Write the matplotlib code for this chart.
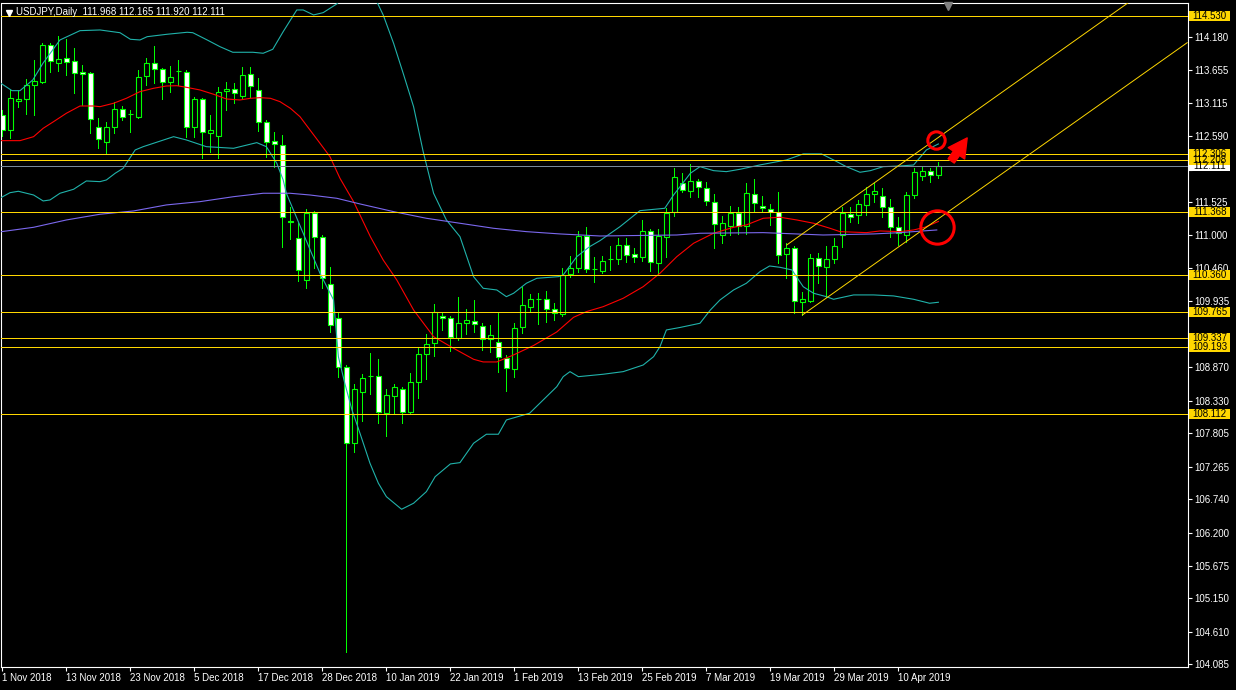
import numpy as np
import matplotlib.pyplot as plt
from matplotlib.patches import Rectangle
from matplotlib.transforms import blended_transform_factory

plt.rcParams['font.family'] = ['Liberation Sans', 'DejaVu Sans']

# USDJPY daily candles, 1 Nov 2018 .. 17 Apr 2019
opens = [112.929, 112.688, 113.155, 113.187, 113.412, 113.461, 114.056, 113.767, 113.847, 113.799,
         113.622, 113.606, 112.736, 112.495, 112.736, 113.026, 112.946, 112.897, 113.557, 113.767,
         113.670, 113.461, 113.638, 113.622, 112.736, 113.187, 112.640, 112.591, 113.316, 113.348,
         113.235, 113.590, 113.332, 112.817, 112.511, 112.447, 111.223, 110.949, 110.273, 111.352,
         110.965, 110.209, 109.661, 108.872, 107.649, 108.470, 108.727, 108.727, 108.132, 108.405,
         108.518, 108.148, 108.631, 109.082, 109.259, 109.693, 109.661, 109.339, 109.581, 109.613,
         109.532, 109.323, 109.275, 109.017, 108.840, 109.516, 109.838, 109.959, 109.967, 109.806,
         109.726, 110.370, 110.466, 110.981, 110.450, 110.418, 110.603, 110.611, 110.837, 110.692,
         110.643, 111.062, 110.547, 110.965, 111.368, 111.835, 111.706, 111.867, 111.754, 111.529,
         110.998, 111.142, 111.352, 111.142, 111.658, 111.464, 111.416, 111.368, 110.692, 110.788,
         109.919, 109.935, 110.627, 110.482, 110.611, 110.998, 111.336, 111.320, 111.481, 111.658,
         111.625, 111.448, 111.126, 110.998, 111.641, 111.947, 112.028, 111.968]
highs = [113.010, 113.332, 113.332, 113.509, 113.815, 114.089, 114.089, 114.201, 114.153, 114.008,
         113.735, 113.622, 112.881, 112.817, 113.139, 113.074, 113.010, 113.654, 113.847, 114.040,
         113.686, 113.718, 113.815, 113.654, 113.219, 113.203, 112.929, 113.380, 113.461, 113.445,
         113.702, 113.702, 113.525, 112.849, 112.656, 112.608, 111.448, 111.191, 111.416, 111.384,
         110.998, 110.482, 109.742, 108.905, 108.599, 108.760, 109.098, 109.001, 108.518, 108.599,
         108.550, 108.776, 109.178, 109.404, 109.887, 109.758, 109.693, 109.999, 109.806, 109.951,
         109.581, 109.549, 109.742, 109.066, 109.581, 110.160, 110.048, 110.064, 110.096, 109.903,
         110.466, 110.659, 111.062, 111.126, 110.643, 110.659, 110.820, 110.949, 110.949, 110.788,
         111.239, 111.094, 111.094, 111.432, 112.076, 111.996, 112.141, 111.899, 111.851, 111.658,
         111.303, 111.464, 111.448, 111.835, 111.899, 111.625, 111.497, 111.690, 110.869, 110.820,
         110.080, 110.692, 110.708, 110.820, 110.949, 111.448, 111.448, 111.561, 111.770, 111.835,
         111.754, 111.577, 111.287, 111.690, 112.076, 112.092, 112.076, 112.165]
lows = [112.591, 112.559, 113.058, 112.946, 112.929, 113.445, 113.622, 113.638, 113.574, 113.284,
        113.091, 112.640, 112.398, 112.318, 112.640, 112.849, 112.656, 112.881, 113.412, 113.445,
        113.187, 113.300, 113.412, 112.575, 112.575, 112.237, 112.334, 112.237, 113.010, 113.123,
        113.187, 113.219, 112.672, 112.253, 112.092, 110.804, 110.933, 110.257, 110.144, 110.466,
        110.144, 109.436, 108.711, 104.284, 107.504, 108.003, 108.438, 107.971, 107.761, 108.132,
        107.971, 108.132, 108.373, 108.679, 109.049, 109.468, 109.130, 109.307, 109.404, 109.436,
        109.146, 109.114, 108.792, 108.486, 108.711, 109.420, 109.758, 109.565, 109.597, 109.629,
        109.693, 110.321, 110.402, 110.402, 110.241, 110.386, 110.434, 110.531, 110.563, 110.563,
        110.579, 110.418, 110.354, 110.643, 111.303, 111.690, 111.609, 111.609, 111.481, 110.788,
        110.869, 110.998, 111.014, 111.014, 111.368, 111.368, 111.159, 110.547, 110.305, 109.742,
        109.709, 109.919, 110.225, 109.999, 110.547, 110.804, 111.207, 111.191, 111.320, 111.529,
        111.287, 110.965, 110.837, 110.885, 111.593, 111.883, 111.851, 111.920]
closes = [112.688, 113.203, 113.187, 113.412, 113.477, 114.056, 113.799, 113.831, 113.783, 113.606,
          113.590, 112.865, 112.543, 112.736, 113.026, 112.897, 112.938, 113.541, 113.767, 113.670,
          113.461, 113.541, 113.630, 112.736, 113.187, 112.656, 112.688, 113.300, 113.348, 113.284,
          113.574, 113.396, 112.817, 112.495, 112.463, 111.287, 111.207, 110.434, 111.352, 110.965,
          110.305, 109.549, 108.872, 107.649, 108.518, 108.695, 108.719, 108.148, 108.422, 108.550,
          108.148, 108.631, 109.082, 109.243, 109.758, 109.653, 109.355, 109.581, 109.629, 109.565,
          109.323, 109.388, 109.033, 108.856, 109.500, 109.871, 109.967, 109.967, 109.806, 109.742,
          110.354, 110.466, 110.981, 110.450, 110.442, 110.579, 110.611, 110.837, 110.676, 110.643,
          111.062, 110.563, 110.981, 111.352, 111.931, 111.722, 111.867, 111.770, 111.545, 111.175,
          111.191, 111.352, 111.142, 111.674, 111.513, 111.432, 111.368, 110.676, 110.788, 109.935,
          109.967, 110.627, 110.498, 110.611, 110.820, 111.352, 111.287, 111.497, 111.658, 111.706,
          111.448, 111.126, 111.030, 111.641, 112.012, 112.028, 111.963, 112.111]

# indicator lines (bar index, price)
bb_up_x = [-0.3, 1.2, 2.2, 3.8, 5.1, 7.2, 9.7, 12.2, 14.7, 16.0, 17.2, 18.1, 20.6, 23.1, 23.8, 25.6,
           27.2, 28.8, 31.3, 32.6, 33.8, 35.1, 36.8, 37.6, 38.9, 40.1, 41.8, 43.5, 45.3, 46.9, 47.6,
           48.9, 50.1, 51.4, 52.6, 53.9, 55.5, 57.2, 58.9, 60.1, 61.8, 63.0, 63.9, 65.5, 66.8, 69.5,
           70.1, 71.8, 73.4, 74.7, 77.2, 79.7, 82.8, 83.9, 86.0, 87.2, 88.9, 90.5, 92.2, 94.7, 98.0,
           100.1, 102.4, 103.9, 105.5, 107.2, 108.5, 110.1, 112.2, 113.9, 115.5, 117.0]
bb_up = [113.449, 113.321, 113.321, 113.493, 113.767, 114.137, 114.287, 114.298, 114.254, 114.148,
         114.137, 114.190, 114.229, 114.261, 114.254, 114.137, 114.029, 113.939, 113.939, 113.923,
         113.987, 114.271, 114.620, 114.620, 114.540, 114.577, 114.717, 114.950, 114.950, 114.728,
         114.540, 114.084, 113.601, 113.063, 112.339, 111.669, 111.239, 110.970, 110.326, 110.139,
         110.112, 110.004, 110.059, 110.220, 110.300, 110.326, 110.353, 110.648, 110.809, 110.906,
         111.131, 111.389, 111.427, 111.641, 111.991, 112.097, 112.033, 112.017, 112.055, 112.125,
         112.205, 112.302, 112.302, 112.205, 112.097, 112.007, 112.033, 112.097, 112.108, 112.124,
         112.366, 112.463]
bb_lo_x = [-0.1, 0.95, 2.0, 3.9, 5.1, 5.95, 7.2, 8.9, 10.5, 12.2, 13.0, 14.1, 15.1, 16.6, 17.6, 21.4,
           23.0, 25.5, 28.9, 31.8, 33.0, 34.3, 35.1, 35.5, 37.6, 39.7, 41.4, 42.0, 42.8, 43.7, 44.7,
           45.95, 47.0, 48.0, 49.9, 51.4, 53.0, 54.1, 56.0, 57.2, 58.9, 60.5, 62.0, 63.0, 65.9, 67.6,
           69.3, 70.1, 70.95, 72.0, 75.1, 77.6, 80.1, 81.4, 82.2, 83.0, 84.7, 87.2, 88.5, 89.7, 91.4,
           93.0, 94.7, 95.9, 97.2, 98.7, 100.1, 101.4, 103.0, 103.9, 106.4, 108.9, 111.4, 113.9,
           115.9, 117.0]
bb_lo = [111.604, 111.678, 111.701, 111.641, 111.545, 111.561, 111.669, 111.733, 111.867, 111.856,
         111.883, 111.991, 112.071, 112.366, 112.419, 112.580, 112.527, 112.419, 112.393, 112.484,
         112.419, 112.152, 111.883, 111.669, 111.025, 110.381, 109.951, 109.038, 108.610, 108.180,
         107.805, 107.322, 107.000, 106.784, 106.581, 106.678, 106.865, 107.106, 107.311, 107.332,
         107.644, 107.789, 107.789, 108.019, 108.127, 108.341, 108.555, 108.716, 108.797, 108.716,
         108.755, 108.797, 108.904, 109.038, 109.199, 109.468, 109.508, 109.576, 109.790, 109.951,
         110.112, 110.220, 110.407, 110.498, 110.477, 110.434, 110.165, 110.059, 110.004, 109.962,
         110.032, 110.032, 110.016, 109.962, 109.898, 109.914]
ma_red_x = [-0.3, 2.2, 3.9, 5.1, 6.4, 8.0, 9.7, 11.4, 12.2, 13.9, 15.5, 17.2, 18.9, 20.5, 21.8, 23.0,
            24.7, 26.4, 28.0, 29.7, 31.0, 32.2, 33.5, 34.7, 36.0, 37.2, 38.45, 39.7, 40.95, 42.2,
            43.9, 46.0, 47.6, 49.3, 51.4, 53.9, 56.4, 58.9, 60.1, 61.8, 63.9, 66.4, 69.3, 71.4, 73.0,
            75.1, 77.6, 80.1, 82.2, 84.3, 86.4, 88.9, 91.4, 93.0, 95.1, 97.2, 99.3, 101.4, 103.45,
            104.7, 108.0, 109.7, 112.2, 113.9, 115.3, 117.0]
ma_red = [112.516, 112.516, 112.580, 112.715, 112.822, 112.957, 113.074, 113.074, 113.063, 113.118,
          113.198, 113.305, 113.359, 113.396, 113.401, 113.375, 113.332, 113.263, 113.187, 113.171,
          113.198, 113.208, 113.198, 113.144, 113.037, 112.902, 112.688, 112.474, 112.258, 111.910,
          111.534, 110.970, 110.595, 110.273, 109.790, 109.360, 109.173, 108.996, 108.953, 108.953,
          109.066, 109.218, 109.436, 109.672, 109.763, 109.843, 109.978, 110.165, 110.381, 110.648,
          110.864, 111.025, 111.121, 111.159, 111.266, 111.283, 111.239, 111.186, 111.105, 111.051,
          111.035, 111.062, 111.051, 111.078, 111.121, 111.215]
ma200_x = [-0.1, 3.9, 8.0, 12.2, 16.4, 20.5, 24.7, 28.9, 32.6, 35.95, 38.45, 41.8, 44.7, 48.9, 53.0,
           57.2, 61.4, 65.5, 69.7, 74.7, 84.3, 87.2, 95.1, 102.6, 108.9, 112.2, 116.8]
ma200 = [111.051, 111.121, 111.239, 111.331, 111.384, 111.481, 111.534, 111.614, 111.669, 111.669,
         111.641, 111.588, 111.497, 111.373, 111.266, 111.186, 111.105, 111.051, 111.014, 110.981,
         110.997, 111.025, 111.035, 110.997, 111.014, 111.035, 111.078]

levels = [108.112, 109.193, 109.337, 109.765, 110.360, 111.368, 112.208, 112.306, 114.530]
bid = 112.111

# channel lines: start point and a point past the right edge
chan_up = [(98.04, 110.836), (148.1, 115.41)]
chan_lo = [(100.0, 109.709), (148.1, 114.093)]

price_ticks = [114.180, 113.655, 113.115, 112.590, 112.050, 111.525, 111.000, 110.460, 109.935,
               109.395, 108.870, 108.330, 107.805, 107.265, 106.740, 106.200, 105.675, 105.150,
               104.610, 104.085]
hidden_ticks = [112.050, 109.395]  # covered by the price labels
date_labels = ['1 Nov 2018', '13 Nov 2018', '23 Nov 2018', '5 Dec 2018', '17 Dec 2018',
               '28 Dec 2018', '10 Jan 2019', '22 Jan 2019', '1 Feb 2019', '13 Feb 2019',
               '25 Feb 2019', '7 Mar 2019', '19 Mar 2019', '29 Mar 2019', '10 Apr 2019']
date_bars = [8 * k for k in range(len(date_labels))]

# red marks drawn on the chart
circles = [(116.7, 112.53, 12.5), (116.8, 111.126, 24)]
arrow_tail = (118.6, 112.19)
arrow_tip = (120.6, 112.56)

W, H = 1236, 690
fig = plt.figure(figsize=(W / 100, H / 100), dpi=100, facecolor='black')
ax = fig.add_axes([1.5 / W, 23 / H, 1186 / W, 664 / H], facecolor='black')
ax.set_xlim(-0.11, 148.14)
ax.set_ylim(104.0415, 114.7322)

o = np.array(opens)
h = np.array(highs)
l = np.array(lows)
c = np.array(closes)
x = np.arange(len(o))
bull = c >= o

LW = 0.6  # one pixel for straight lines, drawn without smoothing

ax.vlines(x, l, h, color='#00ff00', lw=LW, zorder=2, antialiased=False)
ax.bar(x, np.maximum(np.abs(c - o), 0.004), bottom=np.minimum(o, c), width=0.55,
       color=np.where(bull, 'black', 'white'), edgecolor='#00ff00', linewidth=0.8, zorder=2.5)

ax.plot(bb_up_x, bb_up, color='#20b2aa', lw=0.8, zorder=3)
ax.plot(bb_lo_x, bb_lo, color='#20b2aa', lw=0.8, zorder=3)
ax.plot(ma_red_x, ma_red, color='#ff0000', lw=0.8, zorder=3)
ax.plot(ma200_x, ma200, color='#7b68ee', lw=0.8, zorder=3)

for lv in levels:
    ax.axhline(lv, color='#ffd700', lw=LW, zorder=4, antialiased=False)
ax.axhline(bid, color='#778899', lw=LW, zorder=3.5, antialiased=False)

for line in (chan_up, chan_lo):
    ax.plot([line[0][0], line[1][0]], [line[0][1], line[1][1]], color='#ffd700', lw=0.7, zorder=4)

for cx, cy, size in circles:
    ax.plot(cx, cy, 'o', ms=size, mfc='none', mec='#ff0000', mew=2.2, zorder=5)
ax.annotate('', xy=arrow_tip, xytext=arrow_tail, zorder=5,
            arrowprops=dict(arrowstyle='simple,head_length=0.75,head_width=0.8,tail_width=0.3',
                            color='#ff0000', mutation_scale=18, shrinkA=0, shrinkB=0))

# axes and ticks in MetaTrader style
for s in ax.spines.values():
    s.set_color('white')
    s.set_linewidth(0.8)
ax.yaxis.tick_right()
ax.set_yticks(price_ticks)
ax.set_yticklabels(['' if p in hidden_ticks else f'{p:.3f}' for p in price_ticks])
ax.set_xticks(date_bars)
ax.set_xticklabels(date_labels)
for lab in ax.get_xticklabels():
    lab.set_ha('left')
ax.tick_params(colors='white', labelsize=7, length=3, width=0.8, pad=2)
ax.tick_params(axis='x', pad=1.5)

# price labels on the right axis
tr = blended_transform_factory(ax.transAxes, ax.transData)
box_h = 10 * (114.7322 - 104.0415) / 664
box_w = 40.7 / 1186


def price_label(p, fc):
    ax.add_patch(Rectangle((1.0015, p - box_h / 2), box_w, box_h, transform=tr, fc=fc, ec='none',
                           clip_on=False, zorder=6))
    ax.text(1.0015 + box_w / 2, p, f'{p:.3f}', transform=tr, ha='center', va='center',
            fontsize=7, color='black', clip_on=False, zorder=7)


price_label(bid, 'white')
for lv in levels:
    price_label(lv, '#ffd700')

# header text and markers
fig.text(16.5 / W, 1 - 12 / H, 'USDJPY,Daily  111.968 112.165 111.920 112.111', color='white',
         fontsize=7, va='center', ha='left')
ax.plot(7.5 / 1186, 1 - 10 / 664, marker='v', ms=4.5, color='white', transform=ax.transAxes,
        clip_on=False, zorder=8)
ax.plot((948 - 1.5) / 1186, 1 - 3 / 664, marker='v', ms=6, color='#808080', transform=ax.transAxes,
        clip_on=False, zorder=8)

fig.savefig('out.png', dpi=100, facecolor='black')
